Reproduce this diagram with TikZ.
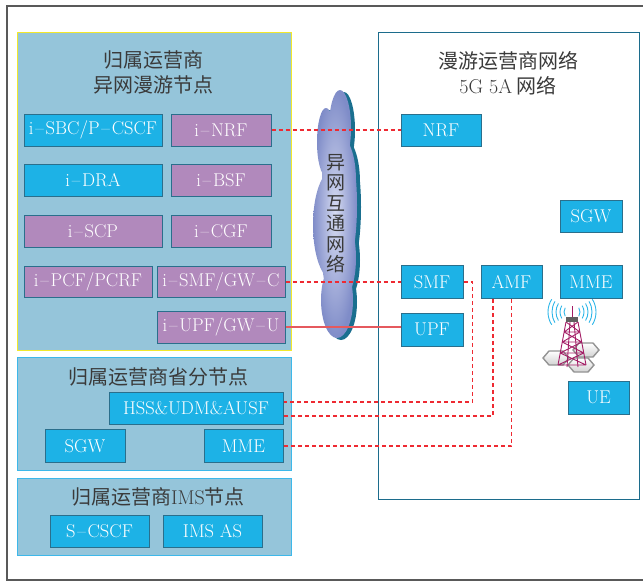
\documentclass[tikz,border=0pt]{standalone}
\usepackage{fontspec}
\newfontfamily\cjk{Noto Sans CJK SC}
\usetikzlibrary{calc}

\definecolor{panelfill}{HTML}{95C5DA}
\definecolor{cyanbox}{HTML}{1DB2E6}
\definecolor{purplebox}{HTML}{B189BC}
\definecolor{boxline}{HTML}{2A6F8C}
\definecolor{homeline}{HTML}{F2E82C}
\definecolor{subline}{HTML}{3DB8EA}
\definecolor{roamline}{HTML}{1C6C8C}
\definecolor{titlegray}{HTML}{3A3A3A}
\definecolor{linkred}{HTML}{EE2A32}
\definecolor{userred}{HTML}{E5595E}
\definecolor{cloudlight}{HTML}{D6DBF1}
\definecolor{clouddark}{HTML}{7F8CC8}
\definecolor{cloudshadow}{HTML}{1A6F8F}
\definecolor{towercol}{HTML}{A31D65}
\definecolor{wavecol}{HTML}{2DB6E8}

% spaced dash used in the function names
\newcommand\fdash{\kern1.8pt--\kern1.8pt}

\tikzset{
  panel/.style={draw, fill=panelfill, line width=1pt, inner sep=0pt},
  nfbox/.style={draw=boxline, line width=1pt, inner sep=0pt, text=white,
    font=\fontsize{18.5}{20}\selectfont},
  cbox/.style={nfbox, fill=cyanbox},
  pbox/.style={nfbox, fill=purplebox},
  heading/.style={text=titlegray, align=center, font=\cjk\fontsize{20}{25}\selectfont},
  reddash/.style={draw=linkred, line width=1.3pt, dash pattern=on 4pt off 3pt},
  redsolid/.style={draw=userred, line width=1.3pt},
  wave/.style={draw=wavecol, line width=0.9pt},
  hexcell/.style={draw=gray!85, line width=1.4pt, top color=white, bottom color=gray!35},
}

% cloud outline built from overlapping ellipses
\newcommand\cloudoutline{%
  (340,128) ellipse [x radius=11pt, y radius=38pt]
  (326,142) ellipse [x radius=9pt, y radius=34pt]
  (339,180) ellipse [x radius=17pt, y radius=45pt]
  (333,225) ellipse [x radius=20pt, y radius=55pt]
  (344,205) ellipse [x radius=13pt, y radius=65pt]
  (339,258) ellipse [x radius=17pt, y radius=45pt]
  (337,300) ellipse [x radius=16pt, y radius=38pt]}

\begin{document}
\begin{tikzpicture}[x=1pt, y=-1pt]
\useasboundingbox (0,0) rectangle (643,582);

% outer frame (its right side lies beyond the page)
\draw[gray!70!black, line width=1.4pt] (660,6) -- (7,6) -- (7,580) -- (660,580);

% ---------- home operator panels ----------
\node[panel, draw=homeline, minimum width=274pt, minimum height=318pt] (home) at (154,191) {};
\node[panel, draw=subline, minimum width=274pt, minimum height=113pt] (prov) at (154,413.5) {};
\node[panel, draw=subline, minimum width=274pt, minimum height=77pt] (ims) at (154,516.5) {};

\node[heading] (hometitle) at (153,72.5) {归属运营商\\异网漫游节点};
\node[heading] (provtitle) at (158,377) {归属运营商省分节点};
\node[heading] (imstitle) at (158,497) {归属运营商{\rmfamily IMS}节点};

\node[cbox, minimum width=138pt, minimum height=32pt] (isbc) at (93,130) {i\fdash SBC/P\fdash CSCF};
\node[pbox, minimum width=100pt, minimum height=32pt] (inrf) at (221,130) {i\fdash NRF};
\node[cbox, minimum width=138pt, minimum height=32pt] (idra) at (93,180.5) {i\fdash DRA};
\node[pbox, minimum width=100pt, minimum height=32pt] (ibsf) at (221,180.5) {i\fdash BSF};
\node[pbox, minimum width=138pt, minimum height=32pt] (iscp) at (93,231) {i\fdash SCP};
\node[pbox, minimum width=100pt, minimum height=32pt] (icgf) at (221,231) {i\fdash CGF};
\node[pbox, minimum width=128pt, minimum height=31pt] (ipcf) at (88,282) {i\fdash PCF/PCRF};
\node[pbox, minimum width=128pt, minimum height=31pt] (ismf) at (221,282) {i\fdash SMF/GW\fdash C};
\node[pbox, minimum width=128pt, minimum height=32pt] (iupf) at (221,327) {i\fdash UPF/GW\fdash U};

\node[cbox, minimum width=174pt, minimum height=32pt] (hss) at (196,408) {HSS\&UDM\&AUSF};
\node[cbox, minimum width=80pt, minimum height=33pt] (hsgw) at (85,446) {SGW};
\node[cbox, minimum width=79pt, minimum height=33pt] (hmme) at (243.5,446) {MME};

\node[cbox, minimum width=99pt, minimum height=32pt] (scscf) at (99.5,531) {S\fdash CSCF};
\node[cbox, minimum width=99pt, minimum height=32pt] (imsas) at (212.5,531) {IMS AS};

% ---------- visited operator network ----------
\node[draw=roamline, line width=1pt, inner sep=0pt, minimum width=261pt, minimum height=467pt] (roam) at (508.5,265.5) {};
\node[heading] (roamtitle) at (508,73.5) {漫游运营商网络\\{\rmfamily 5G 5A} 网络};

\node[cbox, minimum width=80pt, minimum height=32pt] (nrf) at (441,130) {NRF};
\node[cbox, minimum width=62pt, minimum height=32pt] (sgw) at (591,216) {SGW};
\node[cbox, minimum width=62pt, minimum height=33pt] (smf) at (432,282) {SMF};
\node[cbox, minimum width=61pt, minimum height=33pt] (amf) at (511.5,282) {AMF};
\node[cbox, minimum width=62pt, minimum height=33pt] (mme) at (591,282) {MME};
\node[cbox, minimum width=62pt, minimum height=33pt] (upf) at (432,329.5) {UPF};
\node[cbox, minimum width=61pt, minimum height=33pt] (ue) at (598.5,397.5) {UE};

% base station: cells, tower, radio waves
\foreach \cx/\cy in {556/358, 586/350, 581/365} {
  \draw[hexcell] (\cx-13,\cy) -- (\cx-7,\cy-7) -- (\cx+7,\cy-7) -- (\cx+13,\cy)
    -- (\cx+7,\cy+7) -- (\cx-7,\cy+7) -- cycle;
}
\begin{scope}[draw=towercol, line width=0.9pt]
  \draw (572,306) -- (572,318);
  \draw (566,322) -- (558,365);
  \draw (578,322) -- (586,365);
  \draw (570,322) -- (567,367);
  \draw (574,322) -- (578,367);
  \foreach \ya/\yb in {322/332, 332/342, 342/353, 353/365} {
    \pgfmathsetmacro\xla{566-(\ya-322)*8/43}
    \pgfmathsetmacro\xlb{566-(\yb-322)*8/43}
    \pgfmathsetmacro\xra{578+(\ya-322)*8/43}
    \pgfmathsetmacro\xrb{578+(\yb-322)*8/43}
    \draw (\xla,\ya) -- (\xrb,\yb) (\xra,\ya) -- (\xlb,\yb) (\xlb,\yb) -- (\xrb,\yb);
  }
\end{scope}
\fill[gray!75!black] (566,317) rectangle (578,322);
\foreach \r in {8,12,16,20,24} {
  \draw[wave] (572,312) ++(148:\r pt) arc[start angle=148, end angle=212, radius=\r pt];
  \draw[wave] (572,312) ++(-32:\r pt) arc[start angle=-32, end angle=32, radius=\r pt];
}

% ---------- interconnect cloud ----------
\fill[cloudshadow, shift={(4,2)}] \cloudoutline;
\shade[inner color=cloudlight, outer color=clouddark] \cloudoutline;
\node[text=titlegray, align=center, font=\cjk\fontsize{19}{20.5}\selectfont] (cloudtext)
  at (336,213.5) {异\\网\\互\\通\\网\\络};

% ---------- links ----------
\draw[reddash] (inrf.east) -- (nrf.west);
\draw[reddash] (ismf.east) -- (smf.west);
\draw[redsolid] (iupf.east) -- (iupf.east -| upf.west);
\draw[reddash] (smf.east) -- ++(9,0) |- ([yshift=6pt]hss.east);
\draw[reddash] ([xshift=-18.5pt]amf.south) |- ([yshift=-8pt]hss.east);
\draw[reddash] (amf.south) |- (hmme.east);
\end{tikzpicture}
\end{document}
